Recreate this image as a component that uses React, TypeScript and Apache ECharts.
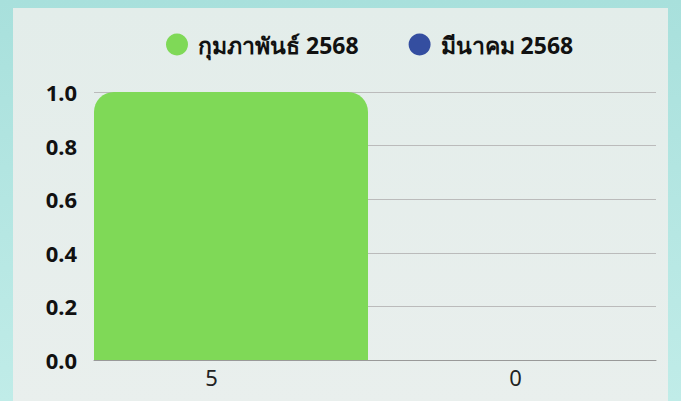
import React, { useEffect, useRef } from "react";
import * as echarts from "echarts";

const categories = ["5", "0"];
const febValues = [1, 0];
const marValues = [0, 0];
const seriesNames = ["กุมภาพันธ์ 2568", "มีนาคม 2568"];
const seriesColors = ["#7fd957", "#344ea0"];

export default function App() {
  const ref = useRef<HTMLDivElement>(null);
  useEffect(() => {
    const chart = echarts.init(ref.current!, null, { renderer: "svg" });
    chart.setOption({
      animation: false,
      backgroundColor: "transparent",
      legend: {
        left: 166,
        top: 33,
        padding: 0,
        icon: "circle",
        itemWidth: 22,
        itemHeight: 22,
        itemGap: 50,
        textStyle: { fontSize: 23, fontWeight: "bold", color: "#111", fontFamily: "Noto Sans, sans-serif", padding: [0, 0, 0, 5] },
        data: seriesNames,
      },
      grid: { left: 94, right: 25, top: 92, bottom: 41 },
      xAxis: {
        type: "category",
        data: categories,
        axisLine: { show: true, lineStyle: { color: "#999", width: 1 } },
        axisTick: { show: false },
        axisLabel: {
          margin: 6,
          fontSize: 22,
          color: "#222",
          fontFamily: "Noto Sans, sans-serif",
          formatter: (v: string, i: number) => (i === 0 ? `{a|${v}}` : `{b|${v}}`),
          rich: {
            a: { fontSize: 22, color: "#222", fontFamily: "Noto Sans, sans-serif", padding: [0, 46, 0, 0] },
            b: { fontSize: 22, color: "#222", fontFamily: "Noto Sans, sans-serif" },
          },
        },
      },
      yAxis: {
        type: "value",
        min: 0,
        max: 1,
        interval: 0.2,
        axisLine: { show: false },
        axisTick: { show: false },
        splitLine: { show: true, lineStyle: { color: "#bbb", width: 1 } },
        axisLabel: {
          margin: 17,
          fontSize: 22,
          fontWeight: "bold",
          color: "#111",
          fontFamily: "Noto Sans, sans-serif",
          formatter: (v: number) => v.toFixed(1),
        },
      },
      series: [
        {
          name: seriesNames[0],
          type: "bar",
          data: febValues,
          barWidth: 274,
          barGap: 0,
          itemStyle: { color: seriesColors[0], borderRadius: [20, 20, 0, 0] },
        },
        {
          name: seriesNames[1],
          type: "bar",
          data: marValues,
          barWidth: 7,
          barGap: 0,
          itemStyle: { color: seriesColors[1], borderRadius: [20, 20, 0, 0] },
        },
      ],
    });
    return () => chart.dispose();
  }, []);
  return (
    <div
      style={{
        position: "fixed",
        left: 0,
        top: 0,
        width: 681,
        height: 401,
        background: "linear-gradient(180deg, #a8e0dc 0%, #c0ece8 100%)",
        overflow: "hidden",
      }}
    >
      <div
        style={{
          position: "absolute",
          left: 13,
          top: 8,
          width: 655,
          height: 400,
          background: "linear-gradient(180deg, #e3edea 0%, #e9efed 100%)",
        }}
      />
      <div ref={ref} style={{ position: "absolute", left: 0, top: 0, width: 681, height: 401 }} />
    </div>
  );
}
